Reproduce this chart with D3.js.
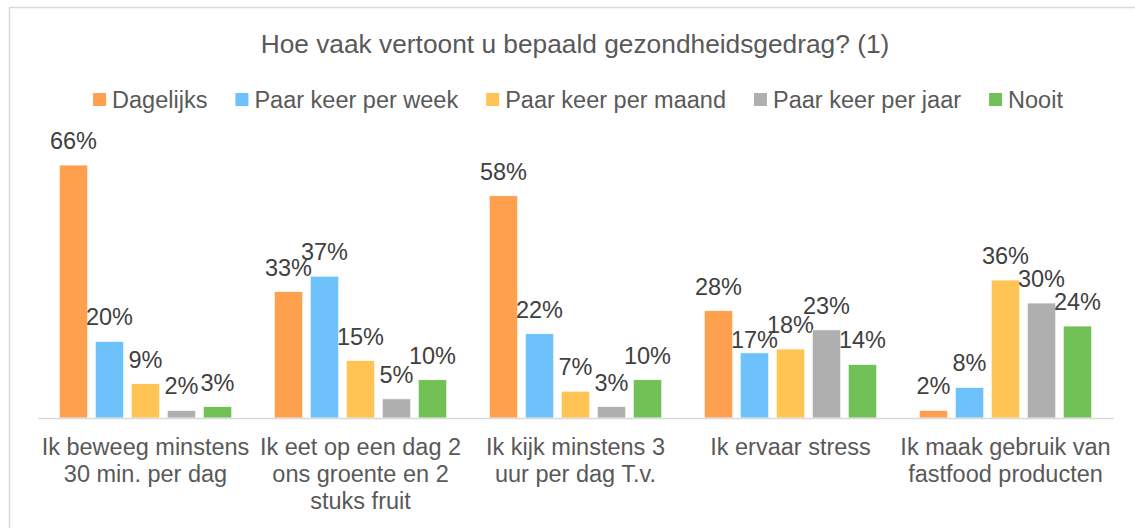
<html>
<head>
<meta charset="utf-8">
<style>
    body { margin: 0; background: #fff; }
    text { font-family: "Liberation Sans", Arial, sans-serif; }
</style>
</head>
<body>
<svg id="chart" width="1135" height="528"></svg>
<script src="https://cdn.jsdelivr.net/npm/d3@7"></script>
<script>
    // data
    let title = "Hoe vaak vertoont u bepaald gezondheidsgedrag? (1)"
    let series = ["Dagelijks", "Paar keer per week", "Paar keer per maand", "Paar keer per jaar", "Nooit"]
    let colors = ["#ffa04f", "#6ec2fb", "#ffc454", "#afafaf", "#72c157"]
    let categories = ["beweeg", "eet", "kijk", "stress", "fastfood"]
    let categoryLabels = [
        ["Ik beweeg minstens", "30 min. per dag"],
        ["Ik eet op een dag 2", "ons groente en 2", "stuks fruit"],
        ["Ik kijk minstens 3", "uur per dag T.v."],
        ["Ik ervaar stress"],
        ["Ik maak gebruik van", "fastfood producten"]
    ]
    let dagelijks = [66, 33, 58, 28, 2]
    let perWeek = [20, 37, 22, 17, 8]
    let perMaand = [9, 15, 7, 18, 36]
    let perJaar = [2, 5, 3, 23, 30]
    let nooit = [3, 10, 10, 14, 24]
    let values = [dagelijks, perWeek, perMaand, perJaar, nooit]

    let svg = d3.select("#chart")

    // outer chart border (right and bottom run off the picture)
    svg.append("rect")
        .attr("x", 9.5).attr("y", 7.5)
        .attr("width", 1140).attr("height", 530)
        .attr("fill", "none")
        .attr("stroke", "#d9d9d9")
        .attr("stroke-width", 1.5)

    svg.append("text")
        .attr("x", 575).attr("y", 53)
        .attr("text-anchor", "middle")
        .style("font-size", "26.3px")
        .style("fill", "#595959")
        .text(title)

    // legend
    let legend = svg.append("g")
    let lx = 0
    series.forEach((s, i) => {
        let item = legend.append("g").attr("transform", `translate(${lx},0)`)
        item.append("rect")
            .attr("x", 0).attr("y", 93)
            .attr("width", 13).attr("height", 13)
            .attr("fill", colors[i])
        let t = item.append("text")
            .attr("x", 19).attr("y", 108)
            .style("font-size", "23.5px")
            .style("fill", "#595959")
            .text(s)
        lx += 19 + t.node().getComputedTextLength() + 28
    })
    let legendWidth = lx - 28
    legend.attr("transform", `translate(${578 - legendWidth / 2},0)`)

    // scales
    let x0 = d3.scaleBand().domain(categories).range([38, 1113])
    let x1 = d3.scaleBand().domain(series).range([0, x0.bandwidth()])
        .paddingInner(0.208).paddingOuter(0.59)
    let y = d3.scaleLinear().domain([0, 70]).range([418, 149.7])

    // excel pushed this one label down so it doesn't hit its neighbour
    let labelNudge = { "stress|Paar keer per week": 11 }

    let groups = svg.append("g").selectAll("g")
        .data(categories)
        .join("g")
        .attr("transform", d => `translate(${x0(d)},0)`)

    let cells = groups.selectAll("g")
        .data((c, ci) => series.map((s, si) => ({ c: c, s: s, si: si, v: values[si][ci] })))
        .join("g")

    cells.append("rect")
        .attr("x", d => x1(d.s))
        .attr("y", d => y(d.v))
        .attr("width", x1.bandwidth())
        .attr("height", d => y(0) - y(d.v))
        .attr("fill", d => colors[d.si])
        .attr("stroke", "#fff")
        .attr("stroke-width", 0.75)

    cells.append("text")
        .attr("x", d => x1(d.s) + x1.bandwidth() / 2)
        .attr("y", d => y(d.v) - 16 + (labelNudge[d.c + "|" + d.s] || 0))
        .attr("text-anchor", "middle")
        .style("font-size", "23.5px")
        .style("fill", "#404040")
        .text(d => d.v + "%")

    // category axis
    let xAxis = svg.append("g")
        .attr("transform", "translate(0,418)")
        .call(d3.axisBottom(x0).tickSize(0).tickSizeOuter(0).tickFormat(""))
    xAxis.select(".domain").attr("stroke", "#d9d9d9").attr("stroke-width", 1.5)

    xAxis.selectAll(".tick text").remove()
    xAxis.selectAll(".tick").each(function(d, i) {
        let t = d3.select(this).append("text")
            .attr("text-anchor", "middle")
            .attr("y", 37)
            .style("font-size", "23.5px")
            .style("fill", "#595959")
        categoryLabels[i].forEach((line, k) => {
            t.append("tspan").attr("x", 0).attr("y", 37 + k * 27).text(line)
        })
    })
</script>
</body>
</html>
